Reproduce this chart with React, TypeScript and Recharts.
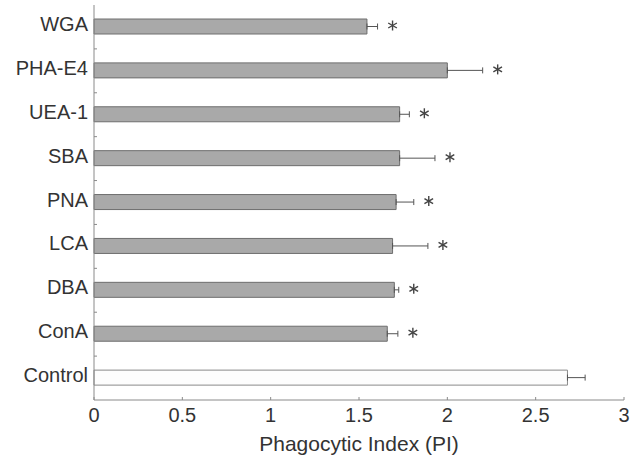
import React from 'react';
import { BarChart, Bar, XAxis, YAxis, ErrorBar, Cell, LabelList } from 'recharts';

const CATEGORIES = ['WGA', 'PHA-E4', 'UEA-1', 'SBA', 'PNA', 'LCA', 'DBA', 'ConA', 'Control'];
const MEANS = [1.545, 2.0, 1.73, 1.73, 1.71, 1.69, 1.7, 1.66, 2.68];
const ERRORS = [0.06, 0.2, 0.055, 0.2, 0.1, 0.2, 0.025, 0.06, 0.1];
const SIGNIFICANT = [true, true, true, true, true, true, true, true, false];
const X_TICKS = [0, 0.5, 1, 1.5, 2, 2.5, 3];

const data = CATEGORIES.map((name, i) => ({
  name,
  pi: MEANS[i],
  err: [0, ERRORS[i]],
  sig: SIGNIFICANT[i],
}));

const FONT = '"Liberation Sans", Arial, Helvetica, sans-serif';
const AXIS_COLOR = '#8a8a8a';
const TEXT_COLOR = '#333';

const XTick = (props: any) => {
  const { x, y, payload } = props;
  return (
    <g>
      <line x1={x} x2={x} y1={y} y2={y - 3} stroke={AXIS_COLOR} />
      <text x={x} y={y + 22} textAnchor="middle" fontSize={20} fill={TEXT_COLOR} fontFamily={FONT}>
        {payload.value}
      </text>
    </g>
  );
};

// labels sit on band centres, tick marks on the boundaries between bands
const YTick = (props: any) => {
  const { x, y, payload, index } = props;
  const half = payload.offset || 22;
  return (
    <g>
      {index > 0 && <line x1={x} x2={x + 3} y1={y - half} y2={y - half} stroke={AXIS_COLOR} />}
      <text x={x - 6} y={y + 4} textAnchor="end" fontSize={20} fill={TEXT_COLOR} fontFamily={FONT}>
        {payload.value}
      </text>
    </g>
  );
};

const Star = (props: any) => {
  const { x, y, width, height, index } = props;
  const d = data[index];
  if (!d || !d.sig) return null;
  const end = x + (width * (d.pi + d.err[1])) / d.pi;
  const cx = end + 15;
  const cy = y + height / 2 - 1;
  const r = 5;
  const arms = [90, 30, 150].map((deg) => {
    const a = (deg * Math.PI) / 180;
    return (
      <line
        key={deg}
        x1={cx - r * Math.cos(a)}
        y1={cy - r * Math.sin(a)}
        x2={cx + r * Math.cos(a)}
        y2={cy + r * Math.sin(a)}
        stroke="#444"
        strokeWidth={1.4}
      />
    );
  });
  return <g>{arms}</g>;
};

export default function App() {
  return (
    <div style={{ position: 'absolute', left: 0, top: 0, background: '#fff' }}>
      <BarChart
        width={644}
        height={455}
        data={data}
        layout="vertical"
        margin={{ top: 5, right: 20, left: 0, bottom: 0 }}
      >
        <XAxis
          type="number"
          domain={[0, 3]}
          ticks={X_TICKS}
          height={55}
          tickSize={0}
          tickMargin={0}
          stroke={AXIS_COLOR}
          tick={<XTick />}
          label={{
            value: 'Phagocytic Index (PI)',
            position: 'insideBottom',
            offset: 4,
            fontSize: 21,
            fill: TEXT_COLOR,
            fontFamily: FONT,
          }}
        />
        <YAxis
          type="category"
          dataKey="name"
          width={94}
          tickSize={0}
          tickMargin={0}
          stroke={AXIS_COLOR}
          tick={<YTick />}
          interval={0}
        />
        <Bar dataKey="pi" barSize={15} isAnimationActive={false}>
          {data.map((d) => (
            <Cell
              key={d.name}
              fill={d.sig ? '#a9a9a9' : '#fdfdfd'}
              stroke={d.sig ? '#6e6e6e' : '#8a8a8a'}
              strokeWidth={1}
            />
          ))}
          <ErrorBar dataKey="err" direction="x" width={3} stroke="#555" strokeWidth={1} />
          <LabelList dataKey="pi" content={<Star />} />
        </Bar>
      </BarChart>
    </div>
  );
}
